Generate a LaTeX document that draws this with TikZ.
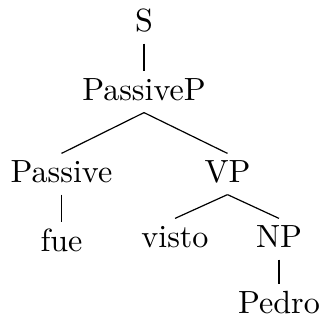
\documentclass[tikz,border=0pt]{standalone}
\begin{document}
\begin{tikzpicture}[x=0.3333pt,y=-0.3333pt,
  lbl/.style={anchor=base,font=\fontsize{10.7pt}{13pt}\selectfont,inner xsep=0pt,inner ysep=1.83pt,text height=7.5pt,text depth=2.17pt},
  edge/.style={draw=black,line width=0.4pt}]
\useasboundingbox (0,0) rectangle (320,321);
\node[lbl] (S) at (144,31) {S};
\node[lbl] (PP) at (144,100) {PassiveP};
\node[lbl] (Pas) at (61.5,182) {Passive};
\node[lbl] (VP) at (227.5,182) {VP};
\node[lbl] (fue) at (61.5,251) {fue};
\node[lbl] (visto) at (175,247) {visto};
\node[lbl] (NP) at (279,247) {NP};
\node[lbl] (Pedro) at (279,313) {Pedro};
\draw[edge] (S.south) -- (PP.north);
\draw[edge] (PP.south) -- (Pas.north);
\draw[edge] (PP.south) -- (VP.north);
\draw[edge] (Pas.south) -- (fue.north);
\draw[edge] (VP.south) -- (visto.north);
\draw[edge] (VP.south) -- (NP.north);
\draw[edge] (NP.south) -- (Pedro.north);
\end{tikzpicture}
\end{document}
